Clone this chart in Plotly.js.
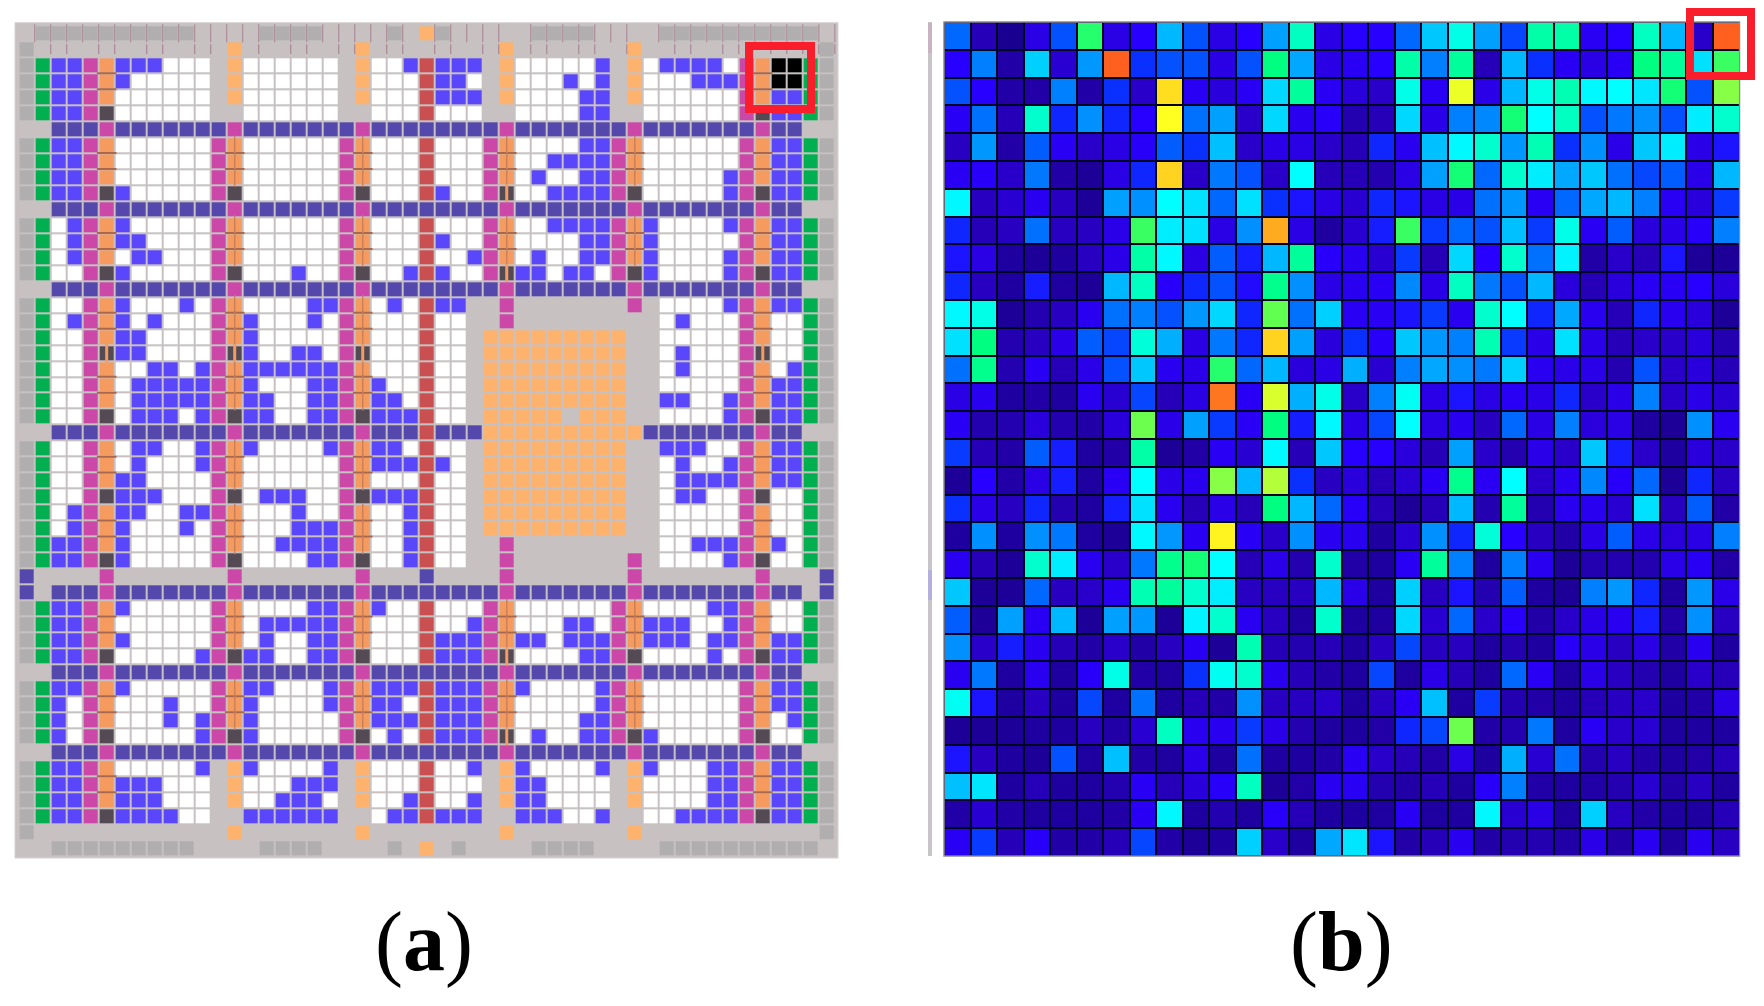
<!DOCTYPE html>
<html>
<head>
<meta charset="utf-8">
<script src="https://cdn.plot.ly/plotly-3.0.1.min.js"></script>
<style>
html,body{margin:0;padding:0;background:#fff;}
#chart{width:1764px;height:1006px;}
#chart .svg-container > svg.main-svg:first-child{filter:blur(0.6px);}
</style>
</head>
<body>
<div id="chart"></div>
<script>
// ---- Panel (a): tile type of every cell, row by row (51 columns, 52 rows) ----
const D = ".. dd dm dddddd dm dddddd dm ddd d ddd dm dddddd dm dddddd dm dd ..";
const layoutRows = [
".g gg gg ggggg. .. .gggg. .. .g. l g.. .. .gggg. .. .ggggg gg gg g.",
"g. .. .. ...... .l ...... .l ... . ... .l ...... .l ...... .. .. .g",
"gG bb mo bbbwww .l wwwwww .l wwb r bbb .l wwwwwb .l wbbbbw mo kk Gg",
"gG bb mo bwwwww .l wwwwww .l www r bbw .l wwwbwb .l wwwbbb mo kk Gg",
"gG bb mo wwwwww .l wwwwww .l www r bbb .l wwwwbb .l wwwwww mo bb Gg",
"gG bb mx wwwwww .. wwwwww .. www r www .. wwwwbb .. wwwwww mx bb Gg",
D,
"gG bb mo wwwwww mo wwwwww mo www r www mo wwwwbb mo wwwwww mo bb Gg",
"gG bb mo wwwwww mo wwwwww mo www r www mo wwbbbb mo wwwwww mo bb Gg",
"gG bb mo wwwwww mo wwwwww mo www r www mo wbwwbb mo wwwwwb mo bb Gg",
"gG bb mx bwwwww mx wwwwww mx www r bww mX wwbbbb mx wwwwwb mx bb Gg",
D,
"gG wb mo bwwwww mo wwwwww mo www r www mo wwbbbb mo bwwwwb mo bb Gg",
"gG wb mo bbwwww mo wwwwww mo www r bww mo wwwwbb mo bwwwww mo bb Gg",
"gG wb mo wbbwww mo wwwwww mo www r wwb mo wbwwbb mo bwwwwb mo bb Gg",
"gG ww mx bwwwww mx wwwbww mx wwb r bww mX bbwbbw mx bwwwwb mx bb Gg",
D,
"gG ww mo bwwwbw mo wwwwbb mo wbw r bb. .m ....... m . wwwwb mo bb Gg",
"gG wb mo bwbwww mo bwwwbw mo www r ww. .m ......... wbwww mo ww Gg",
"gG ww mo bbwwww mo bwwwww mo www r ww. lllllllll .. wwwww mo ww Gg",
"gG ww mX bbwwww mX bwwbbw mX www r ww. lllllllll .. wbwww mX ww Gg",
"gG ww mo wwbbwb mo bbbbbb mo www r ww. lllllllll .. wbwww mo wb Gg",
"gG ww mo wbbbbb mo bwwwbb mo bww r ww. lllllllll .. wwwww mo bb Gg",
"gG ww mo wbbbbb mo bbwwbb mo bbw r ww. lllllllll .. bbwwb mo bb Gg",
"gG ww mx wbbbwb mx bbwwbb mx bbb r ww. lllll.lll .. wwwwb mx bb Gg",
".. dd dm dddddd dm dddddd dm ddd r ddd llllllllll ddddddd m dd ..",
"gG ww mo wbbwwb mo bwwwwb mo bbw r ww. lllllllll .. bbbww mo bb Gg",
"gG ww mo wbwwwb mo wwwwww mo bbb r bw. lllllllll .. wbwwb mo bb Gg",
"gG ww mo bbwwww mo wwwwww mo www r ww. lllllllll .. wbbbb mo bb Gg",
"gG ww mx bbbwww mx wbbbww mx bbb r ww. lllllllll .. wbbww mx ww Gg",
"gG wb mo bbwwbb mo wwwbww mo wwb r ww. lllllllll .. wwwww mo ww Gg",
"gG wb mo bwwwbw mo wwwbbb mo wwb r ww. lllllllll .. wwwww mo ww Gg",
"gG bb mo bwwwww mo wwbbbb mo wwb r ww. .m ......... wwbbb mo bw Gg",
"gG bb mx bwwwww mx wwwwbb mx wwb r ww. .m ....... m . wwwwb mx ww Gg",
"d. .. .m ...... .m ...... .m ... d ... .m ...... .m ...... .m .. .d",
"d. dd dm dddddd dm dddddd dm ddd d ddd dm dddddd dm dddddd dm dd .d",
"gG bb mo bwwwww mo wwwwbb mo bww r www mo wwwwww mo wwwwbb mo ww Gg",
"gG bb mo wwwwww mo wbbbbb mo www r wwb mo wwwbbw mo bbbwwb mo ww Gg",
"gG bb mo bwwwww mo wbwwbb mo www r bbb mo bbwbbb mo bbbwbb mo bb Gg",
"gG bb mx wwwwwb mx bbwwbb mx www r bbb mX wwwwbb mx wwwwbw mx bb Gg",
D,
"gG bb mo bwwwww mo bbwwwb mo bbb r bbb mo bwwwwb mo wwwwww mo bb Gg",
"gG bw mo wwwbww mo bwwwwb mo bbw r bbb mo wwwwwb mo wwwwww mo bb Gg",
"gG bw mo wwwbwb mo bwwwww mo bbb r bbb mo wwwwbb mo wwwwww mo wb Gg",
"gG bw mx wwwwwb mx bwwwww mx wbw r bbb mX wbwwbb mx bwwwww mx ww Gg",
D,
"gG bb mo wwwwwb .l bwwwwb .l www r wwb .l bwwwwb .l bwwwbb mo bb Gg",
"gG bb mo bbbwww .l wwwbbb .l www r www .l bbwwww .l wwwwbb mo bb Gg",
"gG bb mo bbbwww .l wwbbbw .l wwb r wwb .l bbwwww .l wwwwbb mo bb Gg",
"gG bb mx bbbbww .. bbbbbb .. wbb r bbb .. bbbwwb .. wwbbbb mx bb Gg",
"g. .. .. ...... .l ...... .l ... . ... .l ...... .l ...... .. .. .g",
".. gg gg ggggg. .. .gggg. .. .g. l .g. .. .gggg. .. .ggggg gg gg g."
];
const tileCodes  = [".","g","G","w","b","d","m","o","x","X","l","r","k"];
const tileColors = ["#c7c1c1","#b0aeae","#00b050","#ffffff","#5a46fb","#5448ac","#cb47a8","#f59b60","#544a54","#544a54","#fdb26e","#c94f50","#000000"];
// cell boundaries that carry a small tick in the two top rows
const tickRow0 = [1,2,3,4,5,6,7,8,9,10,11,12,13,14,15,16,17,18,19,20,21,22,23,24,26,27,28,29,30,32,33,34,35,36,37,38,40,41,42,43,44,45,46,47,48,49,50,51];
const tickRow1 = [2,3,5,6,8,9,11,12,15,17,18,20,21,23,24,26,27,29,30,32,33,35,36,38,41,42,44,45,47,48,49,50,51];

// ---- Panel (b): heat value of every cell, row by row (30 x 30) ----
const h00=[30,10,5,15,28,62,15,20,40,28,15,20,37,55,15,20,20,30,42,52,37,27,57,57,18,20,55,40,12,90];
const h01=[20,33,8,43,13,36,90,25,28,28,15,28,60,38,15,18,20,57,33,58,10,40,25,18,15,18,60,58,45,63];
const h02=[28,20,8,8,33,8,25,12,78,18,14,18,44,58,18,14,12,52,18,74,16,40,52,56,49,50,46,61,28,68];
const h03=[18,31,10,54,24,35,24,20,75,31,37,12,44,17,19,9,10,44,16,33,34,61,50,55,28,32,35,28,47,54];
const h04=[11,36,8,29,18,12,15,19,29,25,41,12,16,15,12,10,24,17,41,49,54,36,56,25,35,16,42,47,16,22];
const h05=[18,19,12,32,8,6,15,24,79,12,32,28,12,50,10,10,9,15,37,61,30,54,47,38,42,31,27,29,16,40];
const h06=[49,11,13,17,11,6,37,35,50,45,30,45,25,22,15,13,24,22,15,16,31,36,18,30,38,40,33,18,14,26];
const h07=[24,10,11,31,11,11,16,63,47,45,15,35,83,15,7,13,23,63,26,30,28,41,26,52,18,29,14,16,19,33];
const h08=[22,15,7,6,7,11,16,57,49,15,29,23,40,58,19,17,13,26,10,44,20,54,31,48,8,12,10,22,6,6];
const h09=[24,11,7,23,7,6,40,55,19,24,28,21,59,35,15,17,18,34,16,55,32,28,40,14,10,14,18,18,20,14];
const h10=[49,52,6,9,11,17,31,33,28,36,44,24,65,31,43,18,18,22,26,17,54,50,24,38,17,10,24,17,14,6];
const h11=[45,60,9,11,16,29,27,53,39,15,32,24,79,37,14,25,19,42,36,33,56,26,16,45,16,10,12,12,14,9];
const h12=[31,59,9,18,10,16,28,42,17,16,62,30,40,14,15,39,13,33,38,35,32,43,17,16,16,9,28,12,14,10];
const h13=[15,17,7,8,7,17,13,27,10,15,88,18,73,39,52,12,33,51,16,22,15,18,16,24,12,16,33,12,16,13];
const h14=[18,9,9,14,9,8,14,66,16,37,26,18,60,23,49,16,27,50,15,17,11,30,15,33,14,15,7,6,35,17];
const h15=[26,10,8,29,23,7,8,57,6,8,18,13,49,10,42,20,20,14,10,37,12,9,16,12,42,23,12,7,14,12];
const h16=[6,20,8,15,23,7,18,50,16,17,68,40,71,25,11,14,10,13,18,59,18,50,12,17,34,19,30,6,24,11];
const h17=[25,16,11,24,9,7,23,45,17,10,16,10,60,40,30,19,10,6,10,40,9,58,9,17,17,13,45,11,29,8];
const h18=[7,35,7,35,32,7,6,49,36,18,76,18,12,35,17,17,7,13,35,24,53,20,11,8,16,29,16,14,15,33];
const h19=[17,10,6,54,47,17,12,32,59,61,50,10,16,9,54,8,7,18,58,33,7,33,17,6,9,9,9,16,18,8];
const h20=[42,6,6,30,11,12,17,56,58,54,47,11,11,11,40,16,7,43,11,22,9,29,7,6,33,36,24,7,36,16];
const h21=[29,6,37,18,40,6,37,36,6,48,54,17,11,7,54,7,7,44,13,30,12,19,8,12,16,17,23,8,35,11];
const h22=[35,12,23,17,10,8,12,8,11,18,6,56,10,9,10,7,11,27,11,11,7,9,7,19,16,11,15,8,17,7];
const h23=[17,32,7,17,7,19,52,8,7,25,51,54,17,10,8,7,27,7,16,10,7,30,18,7,16,11,9,7,12,10];
const h24=[51,22,7,11,7,27,7,31,7,10,8,35,11,11,12,7,11,18,41,7,26,9,8,7,10,11,12,7,8,15];
const h25=[6,6,6,7,7,11,8,13,55,17,17,26,16,9,7,7,8,24,27,66,8,9,32,7,18,12,13,7,7,7];
const h26=[22,11,7,6,28,7,41,8,7,16,7,31,7,7,8,18,12,10,8,15,7,39,13,31,9,11,8,7,8,10];
const h27=[41,46,7,10,7,7,9,18,10,14,19,55,6,8,17,18,9,8,10,7,19,33,8,7,8,9,13,8,11,7];
const h28=[8,13,8,7,7,7,8,18,49,7,9,7,19,10,7,7,7,18,7,7,49,13,15,7,43,11,8,7,7,10];
const h29=[18,26,10,19,8,8,10,27,8,6,7,43,12,7,38,46,22,8,10,17,8,9,9,8,16,8,17,7,17,11];
const heatValues=[h00,h01,h02,h03,h04,h05,h06,h07,h08,h09,h10,h11,h12,h13,h14,h15,h16,h17,h18,h19,h20,h21,h22,h23,h24,h25,h26,h27,h28,h29];
const heatStops =[0,5,10,15,20,25,30,35,40,45,50,55,60,65,70,75,80,85,90,100];
const heatColors=["#140070","#190090","#2600b8","#2a00e4","#2800ff","#0a30ff","#0068ff","#0090ff","#00b8ff","#00e0ff","#00ffff","#00ffc0","#00ff80","#60ff50","#a0ff40","#ffff20","#ffc820","#ff9820","#ff6020","#ff4000"];
const panelLabels=["(<b>a</b>)","(<b>b</b>)"];

// ---- Build ----
const W=1764,H=1006;
const px=x=>x/W, py=y=>1-y/H;
const grid=layoutRows.map((r,i)=>{
  const s=r.replace(/ /g,'');
  if(s.length!==51) throw new Error('row '+i+' has '+s.length);
  return s;
});
const n=tileCodes.length;
const tileScale=[];
tileColors.forEach((c,i)=>{tileScale.push([i/n,c]);tileScale.push([(i+1)/n,c]);});
const tileZ=grid.map(s=>[...s].map(ch=>tileCodes.indexOf(ch)+0.5));

// seams in the DSP columns, split memory cells: all derived from the tile table
const seamX=[],seamY=[],midX=[],midY=[],splitX=[],splitY=[];
const midCols=[13,21,30,38];
grid.forEach((s,r)=>{[...s].forEach((ch,c)=>{
  if(ch==='o'){
    if(r+1<grid.length && grid[r+1][c]==='o'){seamX.push(c);seamY.push(r+0.5);}
    if(midCols.includes(c)){midX.push(c);midY.push(r);}
  }
  if(ch==='X'){splitX.push(c);splitY.push(r);}
});});
const marks=(x,y,sym,size,color,width,op)=>({type:'scatter',mode:'markers',x,y,xaxis:'x',yaxis:'y',hoverinfo:'skip',showlegend:false,
  marker:{symbol:sym,size,opacity:op,line:{color,width}}});

const data=[
 {type:'heatmap',z:tileZ,xaxis:'x',yaxis:'y',zmin:0,zmax:n,colorscale:tileScale,showscale:false,xgap:2,ygap:2,hoverinfo:'skip'},
 marks(seamX,seamY,'line-ew',14,'#a8684c',2,1),
 marks(midX,midY,'line-ns',14,'#c67e58',1.5,0.9),
 marks(splitX,splitY,'line-ns',13,'#f59b60',3,1),
 marks(tickRow0.map(b=>b-0.5),tickRow0.map(()=>0),'line-ns',13,'#98607a',1.2,0.55),
 marks(tickRow1.map(b=>b-0.5),tickRow1.map(()=>1),'line-ns',7,'#98607a',1.2,0.6),
 {type:'heatmap',z:heatValues,xaxis:'x2',yaxis:'y2',zmin:0,zmax:100,showscale:false,xgap:2,ygap:2,hoverinfo:'skip',
  colorscale:heatStops.map((v,i)=>[v/100,heatColors[i]])}
];

const hidden={showgrid:false,zeroline:false,showticklabels:false,ticks:'',showline:false,fixedrange:true};
const box=(x0,y0,x1,y1,extra)=>Object.assign({type:'rect',xref:'paper',yref:'paper',x0:px(x0),x1:px(x1),y0:py(y0),y1:py(y1)},extra);

const layout={
 width:W,height:H,autosize:false,margin:{l:0,r:0,t:0,b:0,pad:0},
 paper_bgcolor:'#ffffff',plot_bgcolor:'rgba(0,0,0,0)',showlegend:false,
 xaxis:Object.assign({},hidden,{domain:[px(15),px(838)],range:[-0.73,50.7],anchor:'y'}),
 yaxis:Object.assign({},hidden,{domain:[py(858),py(22.7)],range:[51.62,-0.66],anchor:'x'}),
 xaxis2:Object.assign({},hidden,{domain:[px(944),px(1739.5)],range:[-0.5,29.5],anchor:'y2'}),
 yaxis2:Object.assign({},hidden,{domain:[py(856),py(22)],range:[29.5,-0.5],anchor:'x2'}),
 shapes:[
  box(15,22.7,838,858,{layer:'below',fillcolor:tileColors[0],line:{width:1,color:'#d6d2d2'}}),
  box(944,22,1739.5,856,{layer:'below',fillcolor:'#000020',line:{width:1.5,color:'#8a8a98'}}),
  box(928,22,932,856,{layer:'below',fillcolor:'#c8c5c8',line:{width:0}}),
  box(928,23,932,53,{layer:'below',fillcolor:'#c9b2c2',line:{width:0}}),
  box(928,570,932,600,{layer:'below',fillcolor:'#b4aede',line:{width:0}}),
  box(749,46,811,109,{layer:'above',fillcolor:'rgba(0,0,0,0)',line:{width:8,color:'#fa1e2d'}}),
  box(1690,12,1751,76,{layer:'above',fillcolor:'rgba(0,0,0,0)',line:{width:8,color:'#fa1e2d'}})
 ],
 annotations:[
  {text:panelLabels[0],xref:'paper',yref:'paper',x:px(424),y:py(942),xanchor:'center',yanchor:'middle',showarrow:false,
   font:{family:'"Liberation Serif",serif',size:84,color:'#000'}},
  {text:panelLabels[1],xref:'paper',yref:'paper',x:px(1341),y:py(942),xanchor:'center',yanchor:'middle',showarrow:false,
   font:{family:'"Liberation Serif",serif',size:84,color:'#000'}}
 ]
};
Plotly.newPlot('chart',data,layout,{displayModeBar:false,staticPlot:true});
</script>
</body>
</html>
